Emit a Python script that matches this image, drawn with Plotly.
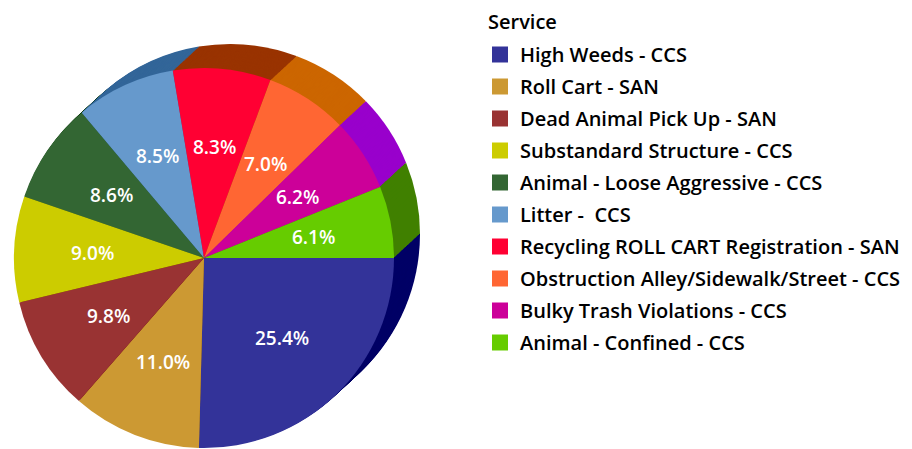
import math
import plotly.graph_objects as go

services = ['High Weeds - CCS', 'Roll Cart - SAN', 'Dead Animal Pick Up - SAN',
            'Substandard Structure - CCS', 'Animal - Loose Aggressive - CCS',
            'Litter -  CCS', 'Recycling ROLL CART Registration - SAN',
            'Obstruction Alley/Sidewalk/Street - CCS', 'Bulky Trash Violations - CCS',
            'Animal - Confined - CCS']
shares = [25.4, 11.0, 9.8, 9.0, 8.6, 8.5, 8.3, 7.0, 6.2, 6.1]

top_colors = ['#333399', '#CC9933', '#993333', '#CCCC00', '#336633',
              '#6699CC', '#FF0033', '#FF6633', '#CC0099', '#66CC00']
side_colors = ['#000066', '#996600', '#660000', '#999900', '#003300',
               '#336699', '#993300', '#CC6600', '#9900CC', '#408000']

W, H = 912, 449
cx, cy, r = 196, 250, 190   # pixel centre / radius of the top face
depth_x, depth_y = 26, 24
label_r = 112


def dom(ox, oy):
    x0 = (cx + ox - r) / W
    x1 = (cx + ox + r) / W
    yc = H - (cy + oy)
    return dict(x=[x0, x1], y=[(yc - r) / H, (yc + r) / H])


fig = go.Figure()

# fake 3d side: stack of darker pies shifted up-right
steps = 26
for k in range(steps, 0, -1):
    ox = depth_x * k / steps
    oy = -depth_y * k / steps
    fig.add_trace(go.Pie(values=shares, labels=services, sort=False,
                         direction='clockwise', rotation=90,
                         marker=dict(colors=side_colors, line=dict(width=0)),
                         textinfo='none', hoverinfo='skip', showlegend=False,
                         domain=dom(ox, oy)))

fig.add_trace(go.Pie(values=shares, labels=services, sort=False,
                     direction='clockwise', rotation=90,
                     marker=dict(colors=top_colors, line=dict(width=0)),
                     textinfo='none', showlegend=False, domain=dom(0, 0)))

# percentage labels at a fixed distance from the centre
total = sum(shares)
cum = 0
for v in shares:
    mid = (cum + v / 2) / total * 2 * math.pi   # clockwise from 3 o'clock
    cum += v
    px = cx + label_r * math.cos(mid)
    py = cy + label_r * math.sin(mid)
    fig.add_annotation(text=f'{v / total * 100:.1f}%', x=px / W, y=1 - py / H,
                       xref='paper', yref='paper', showarrow=False,
                       xanchor='center', yanchor='middle',
                       font=dict(family='Open Sans', size=19, color='white',
                                 weight=600))

# legend built from dummy square markers
for name, col in zip(services, top_colors):
    fig.add_trace(go.Scatter(x=[None], y=[None], mode='markers', name=name,
                             legendgroup=name,
                             marker=dict(symbol='square', size=16, color=col)))

fig.add_annotation(text='Service', x=478 / W, y=1, xref='paper', yref='paper',
                   xanchor='left', yanchor='top', showarrow=False, height=22,
                   font=dict(family='Open Sans', size=20, color='black', weight=600))

fig.update_layout(
    width=W, height=H,
    margin=dict(l=0, r=0, t=0, b=0),
    paper_bgcolor='white', plot_bgcolor='white',
    xaxis=dict(visible=False), yaxis=dict(visible=False),
    legend=dict(x=472 / W, y=1 - 27 / H, xanchor='left', yanchor='top',
                font=dict(family='Open Sans', size=20, color='black', weight=600),
                tracegroupgap=3, itemsizing='trace'),
    font=dict(family='Open Sans'),
)

fig.write_html("out.html")
